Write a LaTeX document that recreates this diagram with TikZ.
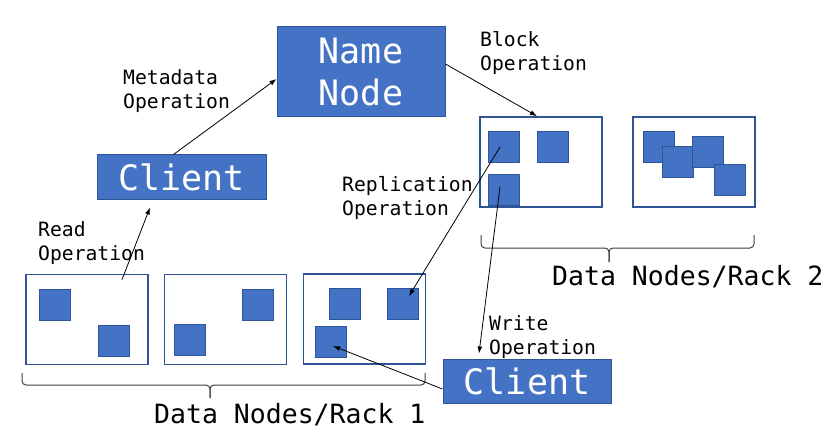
\documentclass[tikz,border=0pt]{standalone}
\usepackage{fontspec}
\setmainfont{DejaVu Sans Mono}
\usetikzlibrary{arrows.meta}
\definecolor{hblue}{HTML}{4472C4}
\definecolor{hedge}{HTML}{2F5597}
\begin{document}
\begin{tikzpicture}[x=1pt,y=-1pt,
    bigbox/.style={fill=hblue,draw=hedge,line width=1pt,text=white,
      font=\fontsize{35}{42}\selectfont,align=center,inner sep=0pt},
    rackbox/.style={draw=hedge,line width=1.7pt,fill=white,
      minimum width=122pt,minimum height=90pt,inner sep=0pt},
    blk/.style={fill=hblue,draw=hedge,line width=0.8pt,minimum size=31pt,inner sep=0pt},
    oplabel/.style={font=\fontsize{19.7}{24}\selectfont,align=left,anchor=north west,inner sep=0pt},
    racklabel/.style={font=\fontsize{26.5}{30}\selectfont,anchor=base west,inner sep=0pt},
    bracket/.style={draw=black!75,line width=1pt,rounded corners=4pt}]
  \useasboundingbox[fill=white] (0,0) rectangle (838,433);
  \draw
    (361,72) node[bigbox,minimum width=168pt,minimum height=90pt] (nn) {Name\\Node}
    (181.5,177) node[bigbox,minimum width=169pt,minimum height=44pt] (cl1) {Client}
    (527,381) node[bigbox,minimum width=168pt,minimum height=44pt] (cl2) {Client};
  \draw
    (87,319.5) node[rackbox] (r1a) {}
    (225.5,319.5) node[rackbox] (r1b) {}
    (364.5,319) node[rackbox] (r1c) {}
    (541,162) node[rackbox] (r2a) {}
    (694,162) node[rackbox] (r2b) {};
  \draw
    (54.5,305) node[blk] (q1a1) {}
    (114,341) node[blk] (q1a2) {}
    (258,305) node[blk] (q1b1) {}
    (190,340) node[blk] (q1b2) {}
    (345,304) node[blk] (q1c1) {}
    (402.5,303.5) node[blk] (q1c2) {}
    (331,342) node[blk] (q1c3) {}
    (504,147) node[blk] (q2a1) {}
    (553,147) node[blk] (q2a2) {}
    (503.5,190) node[blk] (q2a3) {}
    (659,146.5) node[blk] (q2b1) {}
    (678,161.5) node[blk] (q2b2) {}
    (707.5,152) node[blk] (q2b3) {}
    (730,179.5) node[blk] (q2b4) {};
  \draw
    (123,69) node[oplabel] (lmeta) {Metadata\\Operation}
    (480,31) node[oplabel] (lblock) {Block\\Operation}
    (342,176) node[oplabel] (lrepl) {Replication\\Operation}
    (38,221) node[oplabel] (lread) {Read\\Operation}
    (489,315) node[oplabel] (lwrite) {Write\\Operation}
    (552,285) node[racklabel] (lrack2) {Data Nodes/Rack 2}
    (154,423) node[racklabel] (lrack1) {Data Nodes/Rack 1};
  \draw[bracket] (22,373) -- (22,385) -- (210,385) -- (210,398);
  \draw[bracket] (210,398) -- (210,385) -- (425,385) -- (425,373);
  \draw[bracket] (481,235) -- (481,248) -- (609,248) -- (609,262);
  \draw[bracket] (609,262) -- (609,248) -- (754,248) -- (754,235);
  \begin{scope}[-{Latex[length=7pt,width=5pt]},line width=0.8pt]
    \draw ([xshift=-8pt]cl1.north) to ([yshift=-7pt]nn.west);
    \draw ([yshift=8pt]nn.east) to ([xshift=-4pt]r2a.north);
    \draw ([xshift=-4pt]q2a1.center) to ([xshift=6.5pt,yshift=7.5pt]q1c2.center);
    \draw ([xshift=-3.5pt,yshift=3pt]q2a3.center) to ([xshift=-48pt,yshift=5pt]cl2.north);
    \draw ([yshift=-8pt]cl2.west) to ([xshift=2pt,yshift=-4pt]q1c3.center);
    \draw ([xshift=35pt,yshift=-6pt]r1a.north) to ([xshift=-31.5pt,yshift=-8pt]cl1.south);
  \end{scope}
\end{tikzpicture}
\end{document}
